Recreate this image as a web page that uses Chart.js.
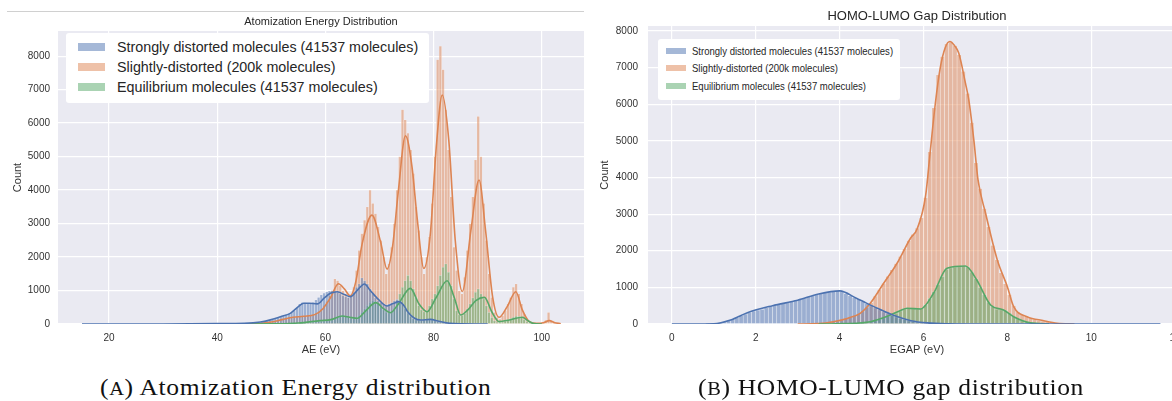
<!DOCTYPE html>
<html>
<head>
<meta charset="utf-8">
<script src="https://cdn.jsdelivr.net/npm/chart.js@4.4.0/dist/chart.umd.min.js"></script>
<style>
  html, body { margin: 0; padding: 0; background: #fff; width: 1172px; height: 401px; overflow: hidden; }
  #page { position: relative; width: 1172px; height: 401px; overflow: hidden; }
  canvas { position: absolute; top: 0; }
  #aeChart { left: 0; }
  #gapChart { left: 590px; }
  .topline { position: absolute; left: 7px; top: 11px; width: 577px; border-top: 1px solid #d0d0d0; }
  .legend { position: absolute; background: #fff; border-radius: 3px; color: #262626; font-family: 'Liberation Sans', Arial, sans-serif; }
  .legend .swatch { position: absolute; }
  .legend .txt { position: absolute; white-space: nowrap; transform-origin: 0 50%; }
  #aeLegend { left: 66px; top: 33px; width: 363px; height: 70px; font-size: 14.3px; }
  #gapLegend { left: 658px; top: 39px; width: 242px; height: 61px; font-size: 11.5px; }
  #gapLegend .txt { transform: scaleX(0.83); }
  .caption { position: absolute; top: 375px; white-space: nowrap; font-family: 'Liberation Serif', 'DejaVu Serif', serif; font-size: 23px; letter-spacing: 0.6px; color: #111; transform: scaleX(1.11); transform-origin: 0 50%; }
  .caption .sc { font-size: 0.8em; }
  #capA { left: 100px; }
  #capB { left: 698px; }
</style>
</head>
<body>
<div id="page">
  <div class="topline"></div>
  <canvas id="aeChart" width="600" height="370"></canvas>
  <canvas id="gapChart" width="610" height="370"></canvas>
  <div class="legend" id="aeLegend"></div>
  <div class="legend" id="gapLegend"></div>
  <div class="caption" id="capA">(<span class="sc">A</span>) Atomization Energy distribution</div>
  <div class="caption" id="capB">(<span class="sc">B</span>) HOMO-LUMO gap distribution</div>
</div>
<script>
// ---- series ----
const seriesLabels = [
  "Strongly distorted molecules (41537 molecules)",
  "Slightly-distorted (200k molecules)",
  "Equilibrium molecules (41537 molecules)"
];
const seriesColors = ["#4c72b0", "#dd8452", "#55a868"];

// ---- atomization energy (left) ----
const aeTicks = [20, 40, 60, 80, 100];
const aeCountTicks = [0, 1000, 2000, 3000, 4000, 5000, 6000, 7000, 8000];
const aeBinWidth = 0.5;

const aeStrongStart = 45;
const aeStrongCounts = [
  10, 15, 20, 25, 35, 45, 55, 70, 90, 110,
  130, 160, 190, 220, 250, 280, 300, 330, 400, 500,
  600, 650, 640, 620, 610, 650, 720, 800, 870, 920,
  960, 990, 1000, 980, 950, 900, 850, 820, 800, 850,
  950, 1100, 1200, 1380, 1300, 1200, 1050, 900, 780, 700,
  640, 600, 580, 600, 640, 700, 740, 700, 600, 450,
  330, 240, 170, 130, 120, 120, 130, 140, 140, 130,
  110, 80, 60, 40, 25, 15, 10, 5
];

const aeSlightStart = 50;
const aeSlightCounts = [
  60, 80, 110, 140, 160, 180, 200, 210, 220, 230,
  240, 230, 240, 250, 260, 280, 320, 380, 460, 560,
  680, 850, 1000, 1350, 1300, 1150, 1000, 900, 800, 870,
  1100, 1600, 2200, 2700, 3100, 3500, 4000, 3600, 3300, 2900,
  2500, 2000, 1500, 1800, 2300, 3000, 4000, 5000, 6400, 6100,
  5700, 5200, 4500, 3500, 2800, 2000, 1500, 2000, 2600, 3600,
  5000, 7900, 8300, 7600, 6400, 5200, 3800, 2300, 1600, 1000,
  900, 1400, 2200, 3000, 3800, 4900, 6200, 5000, 3600, 2500,
  1500, 800, 350, 200, 150, 250, 400, 600, 800, 1100,
  1200, 900, 600, 300, 120, 40, 20, 10, 10, 20,
  50, 120, 350, 100, 40, 20, 10
];

const aeEquilStart = 55;
const aeEquilCounts = [
  20, 25, 30, 35, 40, 50, 60, 70, 80, 90,
  100, 120, 150, 180, 220, 250, 260, 240, 210, 180,
  170, 200, 260, 350, 450, 560, 650, 700, 680, 620,
  520, 420, 350, 330, 380, 500, 700, 900, 1100, 1300,
  1450, 1300, 1050, 800, 560, 420, 360, 400, 550, 750,
  900, 1150, 1450, 1700, 1800, 1550, 1150, 750, 400, 280,
  260, 320, 450, 600, 780, 950, 1050, 900, 750, 550,
  350, 200, 100, 60, 50, 60, 90, 130, 170, 210,
  240, 230, 200, 130, 70, 30, 10
];

const aeStrongKdeX = [15, 30, 40, 45, 48, 50, 51.7, 53.5, 55, 56, 57, 58.5, 59.8, 60.9, 62.2, 63.5, 64.6, 65.6, 66.5, 67.2, 68.3, 69.6, 71.4, 72.5, 73.6, 74.5, 75.2, 76.4, 77.6, 79.4, 81, 83, 85, 90];
const aeStrongKdeY = [0, 2, 10, 20, 60, 130, 218, 318, 520, 620, 620, 600, 780, 916, 965, 880, 815, 950, 1114, 1194, 1000, 766, 537, 610, 667, 550, 368, 180, 119, 139, 80, 20, 5, 0];

const aeSlightKdeX = [40, 45, 48, 50, 52, 54, 56, 58, 59.5, 61, 62.4, 63.5, 64.6, 65.6, 66.8, 68.6, 70.2, 71.4, 72.4, 73.5, 74.8, 76, 77, 78.2, 79.4, 80.5, 81.6, 82.8, 84, 85.3, 86.9, 88.4, 89.6, 90.9, 92.1, 93.6, 95.2, 96.4, 97.7, 99, 100.3, 101.4, 102.4, 103.5];
const aeSlightKdeY = [0, 5, 20, 60, 130, 200, 230, 280, 450, 800, 1200, 1050, 840, 1250, 2400, 3250, 2450, 1640, 2300, 4000, 5620, 4700, 3100, 1660, 2700, 5300, 6840, 5500, 2500, 970, 2800, 4300, 2800, 820, 200, 520, 965, 420, 70, 20, 40, 100, 40, 10];

const aeEquilKdeX = [45, 50, 55, 59, 61, 63.1, 64.5, 65.9, 67.5, 69.3, 70.8, 72, 73.5, 75.7, 77.3, 78.8, 80.5, 82.5, 83.8, 85, 86.5, 87.8, 89.4, 90.8, 92.1, 94, 96.4, 97.5, 98.6, 100];
const aeEquilKdeY = [0, 5, 30, 100, 130, 239, 200, 170, 400, 637, 450, 338, 600, 1065, 600, 368, 800, 1293, 800, 269, 450, 700, 796, 350, 70, 120, 200, 90, 10, 0];

// ---- HOMO-LUMO gap (right) ----
const gapTicks = [0, 2, 4, 6, 8, 10, 12];
const gapCountTicks = [0, 1000, 2000, 3000, 4000, 5000, 6000, 7000, 8000];
const gapBinWidth = 0.1;

const gapStrongStart = 0.8;
const gapStrongCounts = [
  2, 5, 15, 30, 55, 90, 130, 170, 220, 270,
  320, 350, 380, 400, 440, 470, 500, 530, 560, 590,
  620, 650, 680, 710, 740, 770, 800, 830, 850, 870,
  890, 900, 880, 830, 770, 720, 680, 620, 560, 500,
  440, 390, 340, 290, 240, 200, 160, 130, 100, 80,
  60, 45, 32, 22, 15, 10, 7, 5, 3, 2,
  1, 1
];

const gapSlightStart = 3.5;
const gapSlightCounts = [
  15, 25, 40, 60, 80, 110, 140, 180, 230, 280,
  350, 450, 580, 760, 940, 1110, 1300, 1480, 1650, 1850,
  2050, 2280, 2450, 2620, 2900, 3450, 4700, 5900, 6800, 7300,
  7650, 7700, 7600, 7350, 6900, 6300, 5500, 4400, 3700, 3150,
  2650, 2150, 1750, 1400, 1100, 800, 500, 330, 250, 200,
  160, 130, 100, 80, 60, 40, 25, 15, 10, 5
];

const gapEquilStart = 4.0;
const gapEquilCounts = [
  5, 10, 15, 20, 30, 40, 55, 70, 100, 130,
  170, 210, 250, 300, 360, 420, 440, 420, 410, 430,
  530, 700, 880, 1080, 1300, 1500, 1540, 1560, 1570, 1590,
  1560, 1420, 1230, 1000, 800, 600, 480, 410, 390, 370,
  300, 210, 140, 90, 55, 30, 15, 8, 4, 2
];

const gapStrongKdeX = [0, 0.5, 1.0, 1.4, 1.8, 2.4, 3.0, 3.5, 4.0, 4.4, 4.9, 5.3, 5.7, 6.1, 6.6, 7.0, 8.0, 11.65];
const gapStrongKdeY = [0, 0, 5, 109, 310, 500, 650, 820, 905, 702, 429, 230, 90, 30, 5, 0, 0, 0];

const gapSlightKdeX = [3.0, 3.5, 3.85, 4.2, 4.49, 4.73, 5.05, 5.37, 5.69, 5.85, 6.05, 6.16, 6.28, 6.4, 6.52, 6.63, 6.74, 6.84, 7.0, 7.08, 7.2, 7.3, 7.48, 7.76, 8.0, 8.15, 8.47, 8.87, 9.19, 9.6];
const gapSlightKdeY = [0, 10, 63, 160, 292, 565, 1112, 1658, 2341, 2600, 3500, 4700, 6000, 7000, 7550, 7713, 7600, 7396, 6577, 6120, 5027, 3934, 3025, 1749, 1019, 473, 200, 90, 20, 0];

const gapEquilKdeX = [3.5, 4.1, 4.73, 5.21, 5.45, 5.61, 5.93, 6.24, 6.56, 7.0, 7.27, 7.6, 7.91, 8.15, 8.55, 9.0];
const gapEquilKdeY = [0, 10, 63, 246, 370, 429, 410, 838, 1522, 1585, 1202, 519, 383, 200, 30, 0];

// ---- helpers ----
function rgba(hex, a) {
  const n = parseInt(hex.slice(1), 16);
  return `rgba(${n >> 16}, ${(n >> 8) & 255}, ${n & 255}, ${a})`;
}

function binData(start, width, counts) {
  return counts.map((c, i) => ({ x: Math.round((start + width * (i + 0.5)) * 1000) / 1000, y: c }));
}

function histSet(idx, start, width, counts, order) {
  return {
    type: "bar",
    label: seriesLabels[idx],
    data: binData(start, width, counts),
    backgroundColor: rgba(seriesColors[idx], 0.5),
    borderColor: "rgba(255, 255, 255, 0.45)",
    borderWidth: 0.5,
    borderSkipped: "bottom",
    grouped: false,
    barPercentage: 1,
    categoryPercentage: 1,
    order: order,
  };
}

function kdeSet(idx, xs, ys, order) {
  return {
    type: "line",
    label: seriesLabels[idx],
    data: xs.map((x, i) => ({ x: x, y: ys[i] })),
    borderColor: seriesColors[idx],
    borderWidth: 1.6,
    pointRadius: 0,
    fill: false,
    cubicInterpolationMode: "monotone",
    order: order,
  };
}

const plotBackground = {
  id: "plotBackground",
  beforeDraw(chart) {
    const { ctx, chartArea: a } = chart;
    ctx.save();
    ctx.fillStyle = "#eaeaf2";
    ctx.fillRect(a.left, a.top, a.right - a.left, a.bottom - a.top);
    ctx.restore();
  },
};

Chart.defaults.font.family = "'Liberation Sans', Arial, sans-serif";
Chart.defaults.font.size = 10;
Chart.defaults.color = "#333";

function makeOptions(cfg) {
  return {
    responsive: false,
    animation: false,
    layout: { padding: { top: 0, right: cfg.padRight, bottom: 13, left: 0 } },
    plugins: {
      legend: { display: false },
      tooltip: { enabled: false },
      title: {
        display: true,
        text: cfg.title,
        fullSize: false,
        color: "#262626",
        font: { size: cfg.titleSize, weight: "normal" },
        padding: { top: cfg.titleTop, bottom: cfg.titleBottom },
      },
    },
    scales: {
      x: {
        type: "linear",
        min: cfg.xMin,
        max: cfg.xMax,
        offset: false,
        grid: { offset: false, color: "#ffffff", lineWidth: 1.2, drawTicks: false },
        border: { display: false },
        ticks: { padding: 8, maxRotation: 0, autoSkip: false, callback: (v) => String(v) },
        afterBuildTicks: (s) => { s.ticks = cfg.xTicks.map((v) => ({ value: v })); },
        afterFit: (s) => { s.height = 33; },
        title: { display: true, text: cfg.xTitle, font: { size: 11 }, padding: { top: 0, bottom: 0 } },
      },
      y: {
        min: 0,
        max: cfg.yMax,
        grid: { color: "#ffffff", lineWidth: 1.2, drawTicks: false },
        border: { display: false },
        ticks: { padding: cfg.yPad, callback: (v) => String(v) },
        afterBuildTicks: (s) => { s.ticks = cfg.yTicks.map((v) => ({ value: v })); },
        afterFit: (s) => { s.width = 58; },
        title: { display: true, text: "Count", font: { size: 11 }, padding: { top: cfg.yTitlePad, bottom: 0 } },
      },
    },
  };
}

new Chart(document.getElementById("aeChart"), {
  type: "bar",
  data: {
    datasets: [
      kdeSet(0, aeStrongKdeX, aeStrongKdeY, 0),
      kdeSet(2, aeEquilKdeX, aeEquilKdeY, 1),
      kdeSet(1, aeSlightKdeX, aeSlightKdeY, 2),
      histSet(0, aeStrongStart, aeBinWidth, aeStrongCounts, 3),
      histSet(2, aeEquilStart, aeBinWidth, aeEquilCounts, 4),
      histSet(1, aeSlightStart, aeBinWidth, aeSlightCounts, 5),
    ],
  },
  options: makeOptions({
    title: "Atomization Energy Distribution",
    titleSize: 11, titleTop: 14.9, titleBottom: 2.9, padRight: 16,
    xMin: 10.57, xMax: 107.8, xTicks: aeTicks, xTitle: "AE (eV)",
    yMax: 8750, yTicks: aeCountTicks, yPad: 8, yTitlePad: 11.4,
  }),
  plugins: [plotBackground],
});

new Chart(document.getElementById("gapChart"), {
  type: "bar",
  data: {
    datasets: [
      kdeSet(0, gapStrongKdeX, gapStrongKdeY, 0),
      kdeSet(2, gapEquilKdeX, gapEquilKdeY, 1),
      kdeSet(1, gapSlightKdeX, gapSlightKdeY, 2),
      histSet(0, gapStrongStart, gapBinWidth, gapStrongCounts, 3),
      histSet(2, gapEquilStart, gapBinWidth, gapEquilCounts, 4),
      histSet(1, gapSlightStart, gapBinWidth, gapSlightCounts, 5),
    ],
  },
  options: makeOptions({
    title: "HOMO-LUMO Gap Distribution",
    titleSize: 13, titleTop: 8.4, titleBottom: 2.0, padRight: 14,
    xMin: -0.57, xMax: 12.26, xTicks: gapTicks, xTitle: "EGAP (eV)",
    yMax: 8136, yTicks: gapCountTicks, yPad: 10, yTitlePad: 8.4,
  }),
  plugins: [plotBackground],
});

// ---- legends (inside the plot areas) ----
function buildLegend(el, g) {
  seriesLabels.forEach((label, i) => {
    const sw = document.createElement("div");
    sw.className = "swatch";
    sw.style.left = g.swLeft + "px";
    sw.style.width = g.swW + "px";
    sw.style.height = g.swH + "px";
    sw.style.top = (g.rows[i] - g.swH / 2) + "px";
    sw.style.background = rgba(seriesColors[i], 0.5);
    el.appendChild(sw);
    const tx = document.createElement("div");
    tx.className = "txt";
    tx.textContent = label;
    tx.style.left = g.txLeft + "px";
    tx.style.lineHeight = g.lh + "px";
    tx.style.top = (g.rows[i] - g.lh / 2) + "px";
    el.appendChild(tx);
  });
}
buildLegend(document.getElementById("aeLegend"), { rows: [13.7, 33.7, 54.2], swLeft: 12, swW: 27, swH: 8, txLeft: 51, lh: 16 });
buildLegend(document.getElementById("gapLegend"), { rows: [11.5, 29.4, 47.3], swLeft: 8, swW: 20, swH: 6, txLeft: 34, lh: 14 });
</script>
</body>
</html>
